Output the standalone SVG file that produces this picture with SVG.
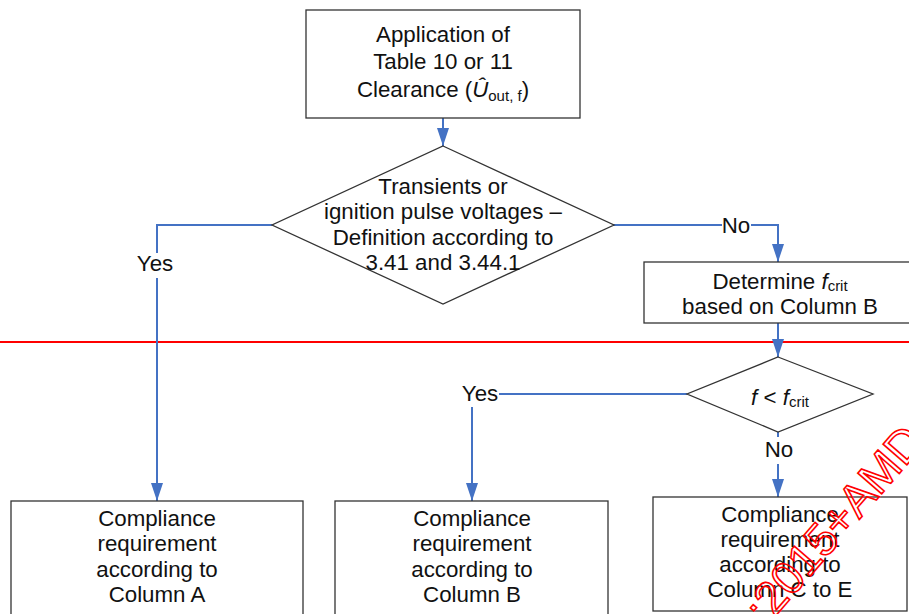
<svg xmlns="http://www.w3.org/2000/svg" width="909" height="614" viewBox="0 0 909 614">
<style>
.box{fill:#fff;stroke:#333;stroke-width:1.3}
.t{font-family:"Liberation Sans",Arial,sans-serif;font-size:22.3px;fill:#111;text-anchor:middle}
.sub{font-size:15px}
.conn{fill:none;stroke:#4472C4;stroke-width:2}
.lblbg{fill:#fff}
.wm{font-family:"Liberation Sans",Arial,sans-serif;font-size:46px;fill:none;stroke:#f00;stroke-width:1.6}
</style>
<defs>
<marker id="ah" viewBox="0 0 18 12" refX="18" refY="6" markerWidth="18" markerHeight="12" markerUnits="userSpaceOnUse" orient="auto">
<path d="M0,0 L18,6 L0,12 z" fill="#4472C4"/>
</marker>
</defs>
<rect width="909" height="614" fill="#fff"/>
<line x1="0" y1="342" x2="909" y2="342" stroke="#f00" stroke-width="2"/>
<g id="connectors">
<path class="conn" d="M443,118 V146" marker-end="url(#ah)"/>
<path class="conn" d="M272,225 H157 V501" marker-end="url(#ah)"/>
<path class="conn" d="M613,225 H778 V262" marker-end="url(#ah)"/>
<path class="conn" d="M778,323 V357" marker-end="url(#ah)"/>
<path class="conn" d="M687,394 H472 V501" marker-end="url(#ah)"/>
<path class="conn" d="M778,432 V497" marker-end="url(#ah)"/>
<g id="lbl-yes1"><rect class="lblbg" x="137" y="253" width="38" height="25"/><text class="t" x="155" y="271">Yes</text></g>
<g id="lbl-no1"><rect class="lblbg" x="722" y="214" width="29" height="24"/><text class="t" x="736" y="233">No</text></g>
<g id="lbl-yes2"><rect class="lblbg" x="461" y="383" width="38" height="24"/><text class="t" x="480" y="401">Yes</text></g>
<g id="lbl-no2"><rect class="lblbg" x="764" y="437" width="30" height="27"/><text class="t" x="779" y="457">No</text></g>
</g>
<g id="n-application">
<rect class="box" x="306" y="10" width="274" height="108"/>
<text class="t" x="443" y="42">Application of</text>
<text class="t" x="443" y="69">Table 10 or 11</text>
<text class="t" x="443" y="97">Clearance (<tspan font-style="italic">Û</tspan><tspan class="sub" dy="4">out, f</tspan><tspan dy="-4">)</tspan></text>
</g>
<g id="n-transients">
<polygon class="box" points="443,146 614,225 443,304 272,225"/>
<text class="t" x="443" y="194">Transients or</text>
<text class="t" x="443" y="219">ignition pulse voltages –</text>
<text class="t" x="443" y="245">Definition according to</text>
<text class="t" x="443" y="270">3.41 and 3.44.1</text>
</g>
<g id="n-determine">
<rect class="box" x="644" y="262" width="272" height="61"/>
<text class="t" x="780" y="289">Determine <tspan font-style="italic">f</tspan><tspan class="sub" dy="2">crit</tspan></text>
<text class="t" x="780" y="314">based on Column B</text>
</g>
<g id="n-fcrit">
<polygon class="box" points="778,357 873,394 778,432 687,394"/>
<text class="t" x="780" y="405"><tspan font-style="italic">f</tspan> &lt; <tspan font-style="italic">f</tspan><tspan class="sub" dy="2">crit</tspan></text>
</g>
<g id="n-colA">
<rect class="box" x="11" y="501" width="292" height="120"/>
<text class="t" x="157" y="526">Compliance</text>
<text class="t" x="157" y="551">requirement</text>
<text class="t" x="157" y="577">according to</text>
<text class="t" x="157" y="602">Column A</text>
</g>
<g id="n-colB">
<rect class="box" x="335" y="501" width="273" height="120"/>
<text class="t" x="472" y="526">Compliance</text>
<text class="t" x="472" y="551">requirement</text>
<text class="t" x="472" y="577">according to</text>
<text class="t" x="472" y="602">Column B</text>
</g>
<g id="n-colC">
<rect class="box" x="653" y="497" width="254" height="114"/>
<text class="t" x="780" y="522">Compliance</text>
<text class="t" x="780" y="547">requirement</text>
<text class="t" x="780" y="572">according to</text>
<text class="t" x="780" y="597">Column C to E</text>
</g>
<text class="wm" transform="translate(766,627) rotate(-49)">:2015+AMD</text>
</svg>
